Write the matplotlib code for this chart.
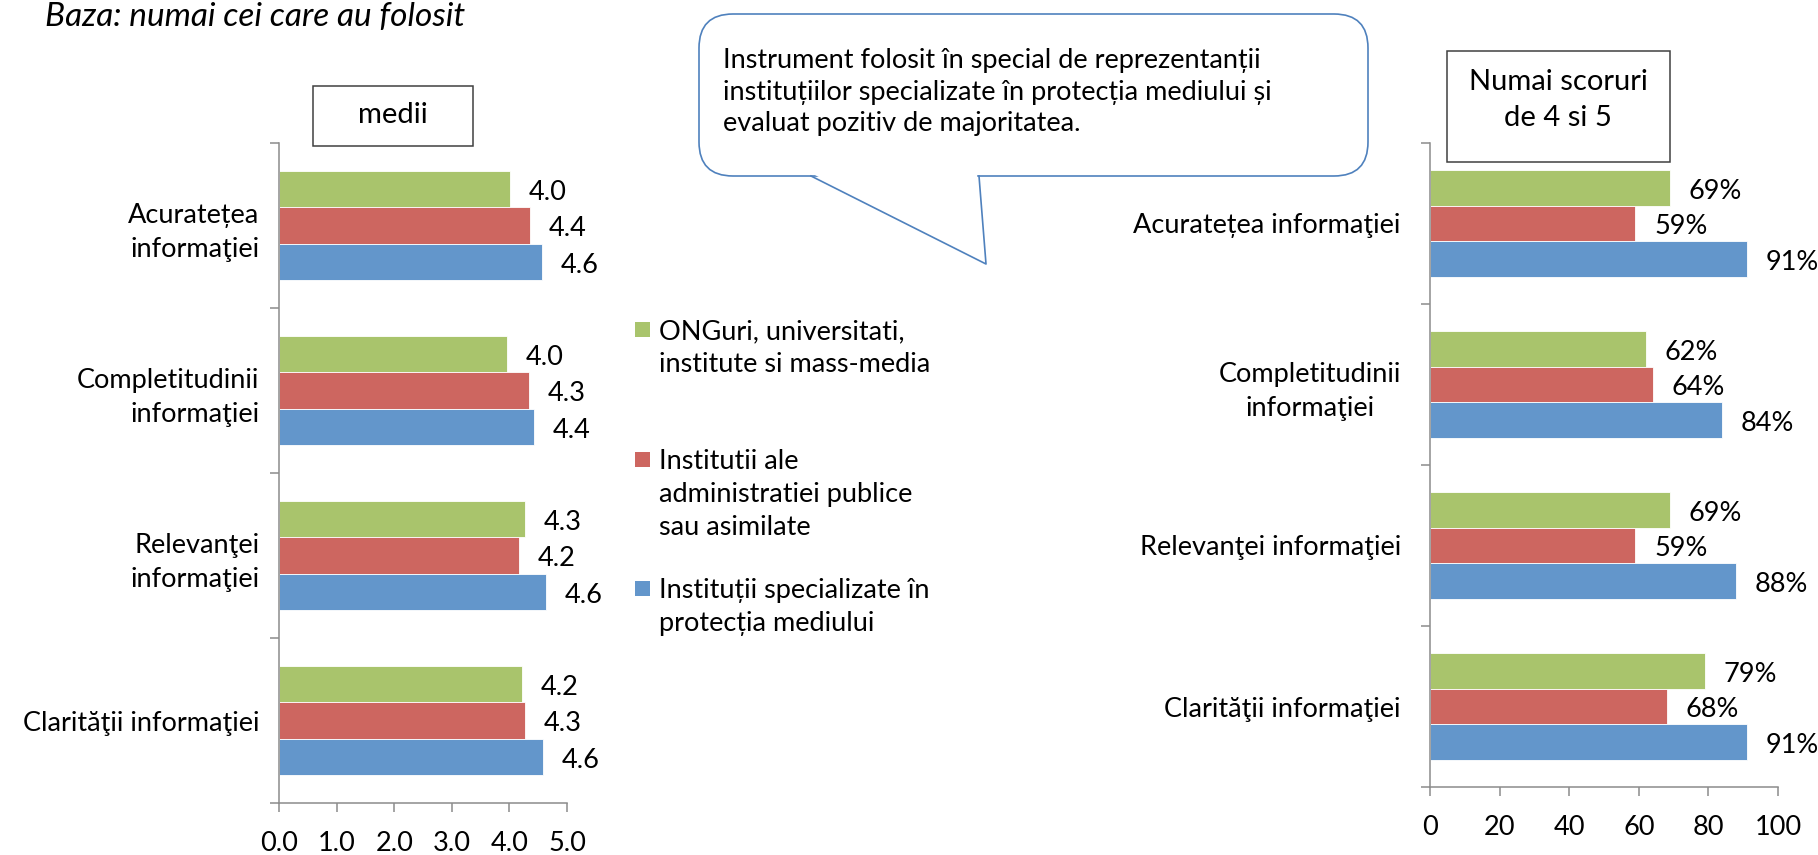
import matplotlib
matplotlib.use('Agg')
import matplotlib.pyplot as plt
from matplotlib.patches import Rectangle, FancyBboxPatch, Polygon
import numpy as np

plt.rcParams['font.family'] = ['Lato', 'DejaVu Sans']

# data
cats_left = ['Acuratețea\ninformaţiei', 'Completitudinii\ninformaţiei',
             'Relevanţei\ninformaţiei', 'Clarităţii informaţiei']
cats_right = ['Acuratețea informaţiei', 'Completitudinii\ninformaţiei',
              'Relevanţei informaţiei', 'Clarităţii informaţiei']
series_names = ['ONGuri, universitati,\ninstitute si mass-media',
                'Institutii ale\nadministratiei publice\nsau asimilate',
                'Instituții specializate în\nprotecția mediului']
medii_ong = [4.01, 3.96, 4.27, 4.22]
medii_adm = [4.36, 4.34, 4.17, 4.27]
medii_spec = [4.57, 4.43, 4.64, 4.58]
scor_ong = [69, 62, 69, 79]
scor_adm = [59, 64, 59, 68]
scor_spec = [91, 84, 88, 91]
ticks_left = [0, 1, 2, 3, 4, 5]
ticks_right = [0, 20, 40, 60, 80, 100]

colors = ['#A9C46C', '#CD6660', '#6396CB']
gray = '#8C8C8C'
FS = 19.5

W, H = 1818, 855
fig = plt.figure(figsize=(W / 100, H / 100), dpi=100)


def px_box(l, t, r, b):
    return [l / W, 1 - b / H, (r - l) / W, (b - t) / H]


def draw(ax, cats, series, xmax, xticks, xlabels, fmt, align, pad):
    y = np.arange(len(cats))
    h = 0.222
    for i, vals in enumerate(series):
        yy = y + (i - 1) * h
        ax.barh(yy, vals, height=h, color=colors[i], edgecolor='white', linewidth=0.6)
        for yv, v in zip(yy, vals):
            ax.annotate(fmt(v), (v, yv), xytext=(13.5, -2.5), textcoords='offset points',
                        ha='left', va='center', fontsize=FS)
    ax.set_ylim(len(cats) - 0.5, -0.5)
    ax.set_xlim(0, xmax)
    ax.set_yticks(np.arange(len(cats) + 1) - 0.5)
    ax.set_yticklabels([])
    ax.set_yticks(y, minor=True)
    ax.set_yticklabels(cats, minor=True, fontsize=FS, multialignment=align, linespacing=1.45)
    ax.tick_params(axis='y', which='major', length=6.5, width=1.1, color=gray)
    ax.tick_params(axis='y', which='minor', length=0, pad=pad)
    ax.set_xticks(xticks)
    ax.set_xticklabels(xlabels)
    ax.tick_params(axis='x', length=6.5, width=1.1, color=gray, pad=14, labelsize=FS)
    for s in ['top', 'right']:
        ax.spines[s].set_visible(False)
    for s in ['left', 'bottom']:
        ax.spines[s].set_color(gray)
        ax.spines[s].set_linewidth(1.1)


ax1 = fig.add_axes(px_box(279, 143, 567, 803))
draw(ax1, cats_left, [medii_ong, medii_adm, medii_spec], 5, ticks_left,
     ['%.1f' % t for t in ticks_left], lambda v: '%.1f' % v, 'right', 14)

ax2 = fig.add_axes(px_box(1430, 143, 1778, 787))
draw(ax2, cats_right, [scor_ong, scor_adm, scor_spec], 100, ticks_right,
     [str(t) for t in ticks_right], lambda v: '%d%%' % v, 'center', 21)

# overlay in pixel coords for boxes, callout, legend
ov = fig.add_axes([0, 0, 1, 1])
ov.set_xlim(0, W)
ov.set_ylim(H, 0)
ov.axis('off')
ov.patch.set_alpha(0)

ov.text(45, 26, 'Baza: numai cei care au folosit', style='italic', fontsize=24,
        ha='left', va='baseline')

ov.add_patch(Rectangle((313, 86), 160, 60, fill=False, edgecolor='#404040', lw=1.1))
ov.text(393, 115, 'medii', fontsize=21, ha='center', va='center')

ov.add_patch(Rectangle((1447, 51), 223, 111, fill=False, edgecolor='#404040', lw=1.1))
ov.text(1558, 100, 'Numai scoruri\nde 4 si 5', fontsize=21, ha='center', va='center',
        multialignment='center', linespacing=1.5)

# callout bubble
blue_edge = '#4F81BD'
ov.add_patch(FancyBboxPatch((699, 14), 669, 162, boxstyle='round,pad=0,rounding_size=34',
                            facecolor='white', edgecolor=blue_edge, lw=1.2, zorder=2))
ov.add_patch(Polygon([(813, 174), (986, 264), (977, 174)], closed=True,
                     facecolor='white', edgecolor='none', zorder=3))
ov.plot([811, 986, 979], [176, 264, 176], color=blue_edge, lw=1.2, zorder=4)
ov.text(723, 48, 'Instrument folosit în special de reprezentanții\n'
        'instituțiilor specializate în protecția mediului și\n'
        'evaluat pozitiv de majoritatea.', fontsize=FS, ha='left', va='top',
        linespacing=1.33, zorder=5)

# legend
leg_y = [330, 460, 589]
for name, c, yy in zip(series_names, colors, leg_y):
    ov.add_patch(Rectangle((635, yy - 8), 15, 15, facecolor=c, edgecolor='none'))
    ov.text(659, yy - 11, name, fontsize=FS, ha='left', va='top', linespacing=1.39)

fig.savefig('out.png', dpi=100)
